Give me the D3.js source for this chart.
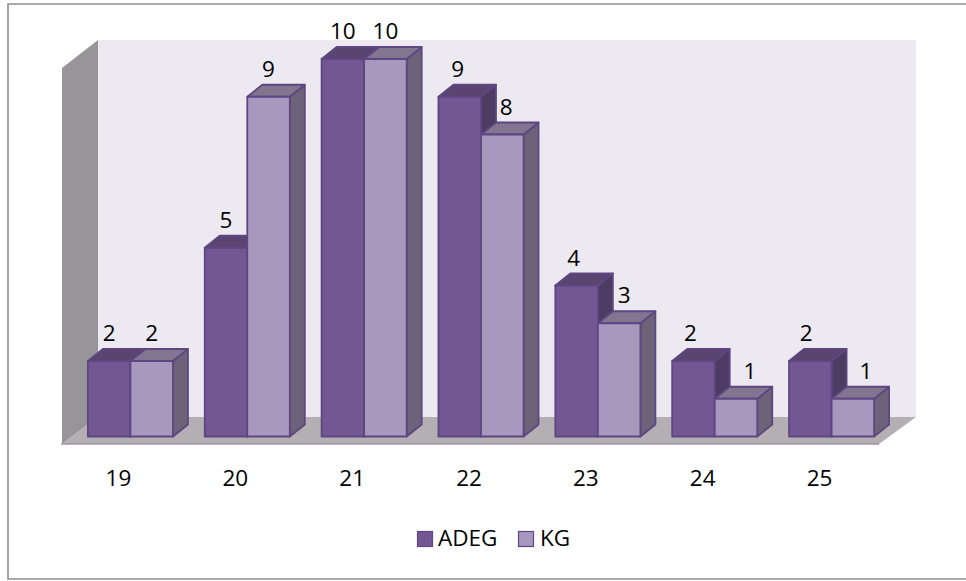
<!DOCTYPE html>
<html>
<head>
<meta charset="utf-8">
<script src="https://d3js.org/d3.v7.min.js"></script>
<style>
html,body{margin:0;padding:0;background:#fff;}
svg{display:block;}
text{font-family:"Open Sans",Lato,sans-serif;fill:#000;}
</style>
</head>
<body>
<svg id="chart" width="966" height="581"></svg>
<script>
const categories = ["19","20","21","22","23","24","25"];
const seriesNames = ["ADEG","KG"];
const adeg = [2,5,10,9,4,2,2];
const kg = [2,9,10,8,3,1,1];
const seriesValues = [adeg,kg];

// Horizontal shift of each value label so it clears the neighbouring bar
const adegLabelShift = [0,0,0,-2,-3,-3,-4];
const kgLabelShift = [0,0,0,4,5,14,13];
const labelShifts = [adegLabelShift,kgLabelShift];

const frontColors = ["#725792","#a998bd"];
const sideColors = ["#4d3b61","#6c6378"];
const topColors = ["#5a4570","#81758f"];
const edgeColor = "#5f4682";
const fontSize = 22.5;

const svg = d3.select("#chart");

// Chart frame: open on the right, where it runs off the page
svg.append("path").attr("d","M966,4H8V579H966")
  .attr("fill","none").attr("stroke","#8e8e8e").attr("stroke-width",1.6);

const x = d3.scaleBand().domain(categories).range([72,890]).paddingInner(0.272).paddingOuter(0.136);
const xInner = d3.scaleBand().domain(seriesNames).range([0,x.bandwidth()]);
const y = d3.scaleLinear().domain([0,10]).range([436.5,59]);

// Oblique projection offset shared by the bars
const depthX = 15, depthY = 12;

// Room: back wall, left wall, floor
const pts = a => a.map(p=>p.join(",")).join(" ");
svg.append("rect").attr("x",98).attr("y",40).attr("width",818).attr("height",377).attr("fill","#ece9f1");
svg.append("polygon").attr("points",pts([[62,68],[98,40],[98,417],[62,444]])).attr("fill","#979599");
svg.append("polygon").attr("points",pts([[62,444],[98,417],[916,417],[879,444]])).attr("fill","#b3afb3");
svg.append("line").attr("x1",61).attr("x2",879).attr("y1",444).attr("y2",444).attr("stroke","#999").attr("stroke-width",1.5);

// Bars are painted back-to-front per category so that each series overlaps properly
const bars = [];
categories.forEach((c,i)=>{
  seriesNames.forEach((s,j)=>bars.push({c,s,j,i,v:seriesValues[j][i]}));
});

const g = svg.append("g").attr("stroke",edgeColor).attr("stroke-width",1.8).attr("stroke-linejoin","round");
const barG = g.selectAll("g").data(bars).join("g");

barG.append("polygon").attr("fill",d=>sideColors[d.j]).attr("points",d=>{
  const r = x(d.c)+xInner(d.s)+xInner.bandwidth();
  return pts([[r,y(d.v)],[r+depthX,y(d.v)-depthY],[r+depthX,y(0)-depthY],[r,y(0)]]);
});
barG.append("polygon").attr("fill",d=>topColors[d.j]).attr("points",d=>{
  const l = x(d.c)+xInner(d.s), r = l+xInner.bandwidth();
  return pts([[l,y(d.v)],[l+depthX,y(d.v)-depthY],[r+depthX,y(d.v)-depthY],[r,y(d.v)]]);
});
barG.append("rect").attr("fill",d=>frontColors[d.j])
  .attr("x",d=>x(d.c)+xInner(d.s)).attr("y",d=>y(d.v))
  .attr("width",xInner.bandwidth()).attr("height",d=>y(0)-y(d.v));

// Value labels over each bar
svg.append("g").selectAll("text").data(bars).join("text")
  .attr("x",d=>x(d.c)+xInner(d.s)+xInner.bandwidth()/2+labelShifts[d.j][d.i])
  .attr("y",d=>y(d.v)-20)
  .attr("text-anchor","middle").attr("font-size",fontSize)
  .text(d=>d.v);

// Category labels
svg.append("g").selectAll("text").data(categories).join("text")
  .attr("x",d=>x(d)+x.bandwidth()/2-12)
  .attr("y",486)
  .attr("text-anchor","middle").attr("font-size",fontSize)
  .text(d=>d);

// Legend
const legendX = [417.5,518.5];
const legendLabelX = [438,540];
const legend = svg.append("g").selectAll("g").data(seriesNames).join("g");
legend.append("rect").attr("x",(d,i)=>legendX[i]).attr("y",531.5).attr("width",15).attr("height",15)
  .attr("fill",(d,i)=>frontColors[i]).attr("stroke",edgeColor).attr("stroke-width",1.2);
legend.append("text").attr("x",(d,i)=>legendLabelX[i]).attr("y",546).attr("font-size",fontSize).text(d=>d);
</script>
</body>
</html>
